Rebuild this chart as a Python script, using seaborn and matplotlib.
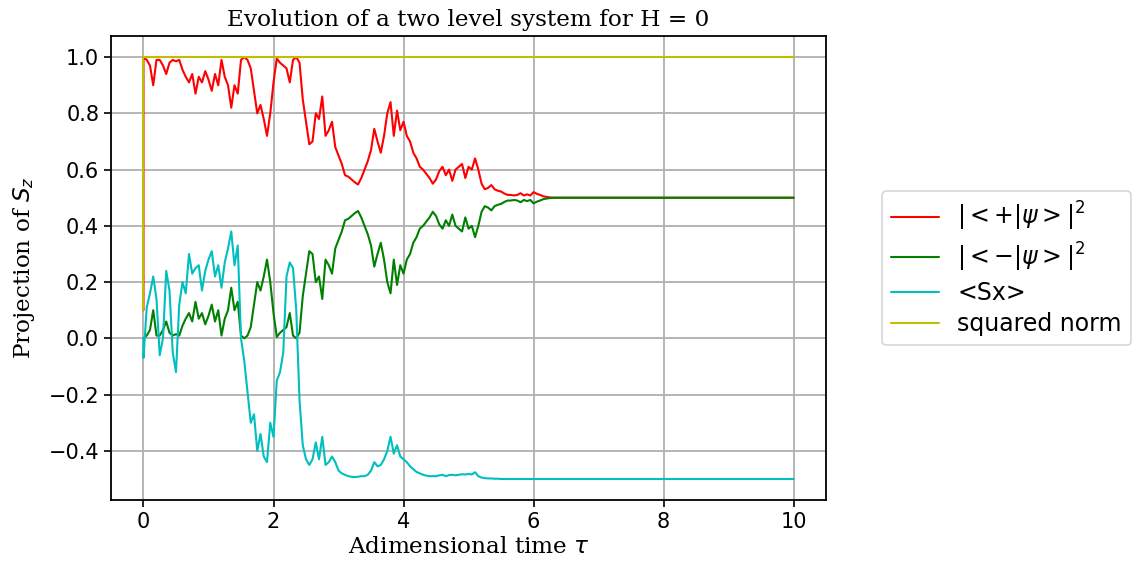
import numpy as np
import pandas as pd
import matplotlib
matplotlib.use("Agg")
import matplotlib.pyplot as plt
import seaborn as sns

# ---------------- data ----------------
# time grid (step 0.05 from 0 to 6.30), plus start point and end point
t_grid = [round(0.05 * i, 2) for i in range(127)]

p_plus = [
    1.00, 0.99, 0.97, 0.90, 0.99, 0.99, 0.97, 0.94, 0.98, 0.99,
    0.985, 0.99, 0.955, 0.93, 0.91, 0.94, 0.87, 0.93, 0.91, 0.95,
    0.92, 0.88, 0.94, 0.90, 0.99, 0.93, 0.90, 0.82, 0.90, 0.87,
    0.99, 1.00, 0.99, 0.96, 0.88, 0.80, 0.83, 0.78, 0.72, 0.80,
    0.91, 0.995, 0.98, 0.97, 0.96, 0.91, 0.99, 1.00, 0.98, 0.85,
    0.77, 0.69, 0.70, 0.80, 0.78, 0.86, 0.72, 0.74, 0.77, 0.68,
    0.65, 0.62, 0.58, 0.575, 0.565, 0.555, 0.547, 0.57, 0.60, 0.63,
    0.67, 0.745, 0.70, 0.66, 0.72, 0.80, 0.84, 0.72, 0.81, 0.74,
    0.77, 0.72, 0.70, 0.66, 0.64, 0.61, 0.60, 0.585, 0.57, 0.55,
    0.565, 0.595, 0.61, 0.58, 0.60, 0.56, 0.60, 0.61, 0.62, 0.57,
    0.61, 0.60, 0.64, 0.60, 0.55, 0.53, 0.535, 0.545, 0.53, 0.525,
    0.522, 0.515, 0.51, 0.51, 0.508, 0.51, 0.516, 0.508, 0.512, 0.508,
    0.52, 0.514, 0.51, 0.505, 0.503, 0.501, 0.50,
]

p_minus = [
    0.00, 0.01, 0.03, 0.10, 0.01, 0.01, 0.03, 0.06, 0.02, 0.01,
    0.015, 0.01, 0.045, 0.07, 0.09, 0.06, 0.13, 0.07, 0.09, 0.05,
    0.08, 0.12, 0.06, 0.10, 0.01, 0.07, 0.10, 0.18, 0.10, 0.13,
    0.01, 0.00, 0.01, 0.04, 0.12, 0.20, 0.17, 0.22, 0.28, 0.20,
    0.09, 0.005, 0.02, 0.03, 0.04, 0.09, 0.01, 0.00, 0.02, 0.15,
    0.23, 0.31, 0.30, 0.20, 0.22, 0.14, 0.28, 0.26, 0.23, 0.32,
    0.35, 0.38, 0.42, 0.425, 0.435, 0.445, 0.453, 0.43, 0.40, 0.37,
    0.33, 0.255, 0.30, 0.34, 0.28, 0.20, 0.16, 0.28, 0.19, 0.26,
    0.23, 0.28, 0.30, 0.34, 0.36, 0.39, 0.40, 0.415, 0.43, 0.45,
    0.435, 0.405, 0.39, 0.42, 0.40, 0.44, 0.40, 0.39, 0.38, 0.43,
    0.39, 0.40, 0.36, 0.40, 0.45, 0.47, 0.465, 0.455, 0.47, 0.475,
    0.478, 0.485, 0.49, 0.49, 0.492, 0.49, 0.484, 0.492, 0.488, 0.492,
    0.48, 0.486, 0.49, 0.495, 0.497, 0.499, 0.50,
]

sx = [
    -0.07, 0.11, 0.16, 0.22, 0.14, -0.06, 0.00, 0.24, 0.17, -0.05,
    -0.12, 0.12, 0.20, 0.16, 0.30, 0.23, 0.25, 0.26, 0.17, 0.24,
    0.28, 0.31, 0.22, 0.26, 0.18, 0.27, 0.32, 0.38, 0.26, 0.33,
    0.00, -0.08, -0.19, -0.30, -0.27, -0.40, -0.34, -0.42, -0.44, -0.30,
    -0.35, -0.15, -0.12, -0.05, 0.22, 0.27, 0.25, 0.10, -0.22, -0.38,
    -0.43, -0.45, -0.43, -0.37, -0.43, -0.35, -0.45, -0.44, -0.42, -0.44,
    -0.47, -0.48, -0.485, -0.49, -0.492, -0.493, -0.492, -0.49, -0.49, -0.485,
    -0.47, -0.44, -0.455, -0.45, -0.43, -0.40, -0.35, -0.41, -0.38, -0.42,
    -0.43, -0.44, -0.455, -0.465, -0.475, -0.48, -0.485, -0.488, -0.49, -0.49,
    -0.49, -0.487, -0.485, -0.49, -0.486, -0.485, -0.487, -0.485, -0.483, -0.484,
    -0.482, -0.484, -0.476, -0.49, -0.495, -0.497, -0.498, -0.498, -0.499, -0.499,
    -0.50, -0.50, -0.50, -0.50, -0.50, -0.50, -0.50, -0.50, -0.50, -0.50,
    -0.50, -0.50, -0.50, -0.50, -0.50, -0.50, -0.50,
]

norm = [1.0] * 127

# initial (unnormalised) values at t = 0 and final values at t = 10
t_start, t_end = 0.0, 10.0
start_vals = {"plus": 0.10, "minus": 0.00, "sx": 0.00, "norm": 0.10}
end_vals = {"plus": 0.50, "minus": 0.50, "sx": -0.50, "norm": 1.00}

labels = [r"$|<+|\psi>|^2$", r"$|<-|\psi>|^2$", "<Sx>", "squared norm"]
colors = ["#ff0000", "#008000", "#00bfbf", "#bfbf00"]

# ---------------- build long-form table ----------------
series = {"plus": p_plus, "minus": p_minus, "sx": sx, "norm": norm}
rows = []
for key, lab in zip(["plus", "minus", "sx", "norm"], labels):
    ts = [t_start] + t_grid + [t_end]
    vs = [start_vals[key]] + list(series[key]) + [end_vals[key]]
    for tt, vv in zip(ts, vs):
        rows.append({"t": tt, "v": vv, "series": lab})
df = pd.DataFrame(rows)

# ---------------- plot ----------------
sns.set_theme(style="ticks", rc={
    "text.color": "black", "axes.labelcolor": "black",
    "xtick.color": "black", "ytick.color": "black",
    "axes.edgecolor": "black",
})
plt.rcParams["font.family"] = ["DejaVu Sans"]

fig = plt.figure(figsize=(11.37, 5.67), dpi=100)
ax = fig.add_axes([0.0976, 0.118, 0.629, 0.8185])

sns.lineplot(data=df, x="t", y="v", hue="series",
             estimator=None, sort=False, palette=dict(zip(labels, colors)),
             hue_order=labels, linewidth=1.5, ax=ax)

ax.grid(True, color="#b0b0b0", linewidth=1.3)
ax.set_axisbelow(True)
for s in ax.spines.values():
    s.set_color("black")
    s.set_linewidth(1.3)
ax.tick_params(axis="both", labelsize=15, length=5, width=1.2, color="black",
               direction="out", labelcolor="black")
ax.set_xlim(-0.5, 10.5)
ax.set_ylim(-0.575, 1.075)
ax.set_xticks([0, 2, 4, 6, 8, 10])
ax.set_yticks([-0.4, -0.2, 0.0, 0.2, 0.4, 0.6, 0.8, 1.0])

ax.set_title("Evolution of a two level system for H = 0", family="DejaVu Serif",
             fontsize=16.7, pad=7)
ax.set_xlabel(r"Adimensional time $\tau$", family="DejaVu Serif", fontsize=16.7,
              labelpad=3)
ax.set_ylabel(r"Projection of $S_z$", family="DejaVu Serif", fontsize=16.7,
              labelpad=8)

leg = ax.legend(loc="center left", bbox_to_anchor=(1.078, 0.5), fontsize=17,
                frameon=True, handlelength=2.0, borderpad=0.4, labelspacing=0.3,
                borderaxespad=0.0)
leg.get_frame().set_edgecolor("#cccccc")
leg.get_frame().set_linewidth(1.2)
for txt in leg.get_texts():
    txt.set_color("black")

fig.savefig("out.png", dpi=100)
